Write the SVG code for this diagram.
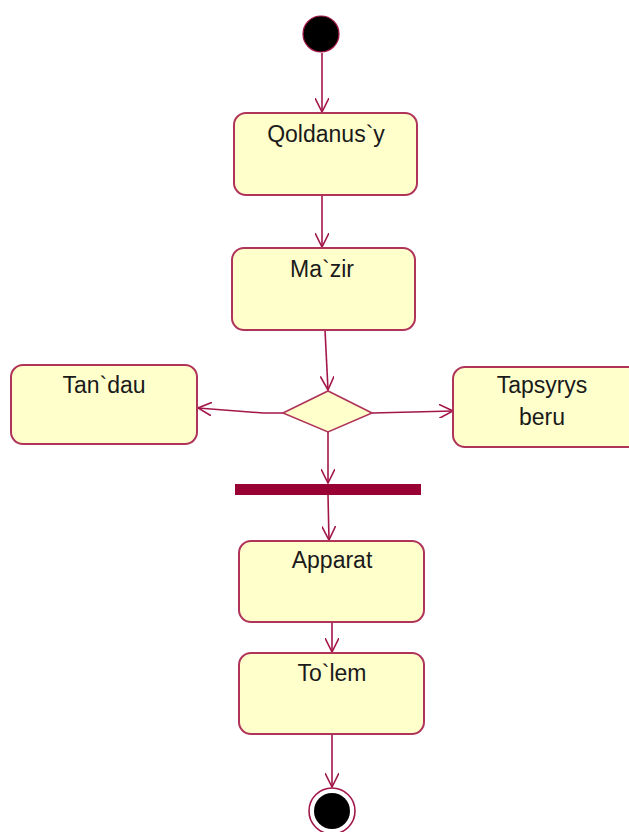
<svg xmlns="http://www.w3.org/2000/svg" width="629" height="832" viewBox="0 0 629 832">
<style>
.box{fill:#FFFFCC;stroke:#B0345A;stroke-width:2}
.lbl{font-family:"Liberation Sans",Arial,sans-serif;font-size:23px;fill:#1a1a1a;text-anchor:middle}
.edge{fill:none;stroke:#A3164A;stroke-width:1.6}
</style>
<defs>
<marker id="arr" viewBox="0 0 15 14" refX="14" refY="7" markerWidth="15" markerHeight="14" markerUnits="userSpaceOnUse" orient="auto">
<path d="M0,0 L14,7 L0,14" fill="none" stroke="#A3164A" stroke-width="1.6"/>
</marker>
</defs>
<rect width="629" height="832" fill="#ffffff"/>
<g id="connectors">
<path class="edge" d="M322,53 L322,112" marker-end="url(#arr)"/>
<path class="edge" d="M322,195 L322,247" marker-end="url(#arr)"/>
<path class="edge" d="M325,330 L328,390" marker-end="url(#arr)"/>
<path class="edge" d="M283,413 L263,413 L198,408" marker-end="url(#arr)"/>
<path class="edge" d="M372,413 L453,411" marker-end="url(#arr)"/>
<path class="edge" d="M328,432 L328,483" marker-end="url(#arr)"/>
<path class="edge" d="M328,495 L329,540" marker-end="url(#arr)"/>
<path class="edge" d="M332,622 L332,652" marker-end="url(#arr)"/>
<path class="edge" d="M332,734 L332,787" marker-end="url(#arr)"/>
</g>
<g id="start">
<circle cx="321" cy="34" r="18" fill="#000" stroke="#A3164A" stroke-width="1.2"/>
</g>
<g id="qoldanusy">
<rect class="box" x="234" y="113" width="183" height="82" rx="12"/>
<text class="lbl" x="326" y="142">Qoldanus`y</text>
</g>
<g id="mazir">
<rect class="box" x="232" y="248" width="183" height="82" rx="12"/>
<text class="lbl" x="322" y="277">Ma`zir</text>
</g>
<g id="decision">
<polygon points="283,413 328,391 372,413 328,432" fill="#FFFFCC" stroke="#B0345A" stroke-width="1.6"/>
</g>
<g id="tandau">
<rect class="box" x="11" y="365" width="186" height="79" rx="12"/>
<text class="lbl" x="104" y="393">Tan`dau</text>
</g>
<g id="tapsyrys">
<rect class="box" x="453" y="367" width="190" height="80" rx="12"/>
<text class="lbl" x="542" y="393">Tapsyrys</text>
<text class="lbl" x="542" y="425">beru</text>
</g>
<g id="fork">
<rect x="235" y="484" width="186" height="11" fill="#990033"/>
</g>
<g id="apparat">
<rect class="box" x="239" y="541" width="185" height="81" rx="12"/>
<text class="lbl" x="332" y="568">Apparat</text>
</g>
<g id="tolem">
<rect class="box" x="239" y="653" width="185" height="81" rx="12"/>
<text class="lbl" x="332" y="681">To`lem</text>
</g>
<g id="end">
<circle cx="332" cy="811" r="23" fill="#fff" stroke="#A3164A" stroke-width="1.6"/>
<circle cx="332" cy="811" r="18" fill="#000"/>
</g>
</svg>
